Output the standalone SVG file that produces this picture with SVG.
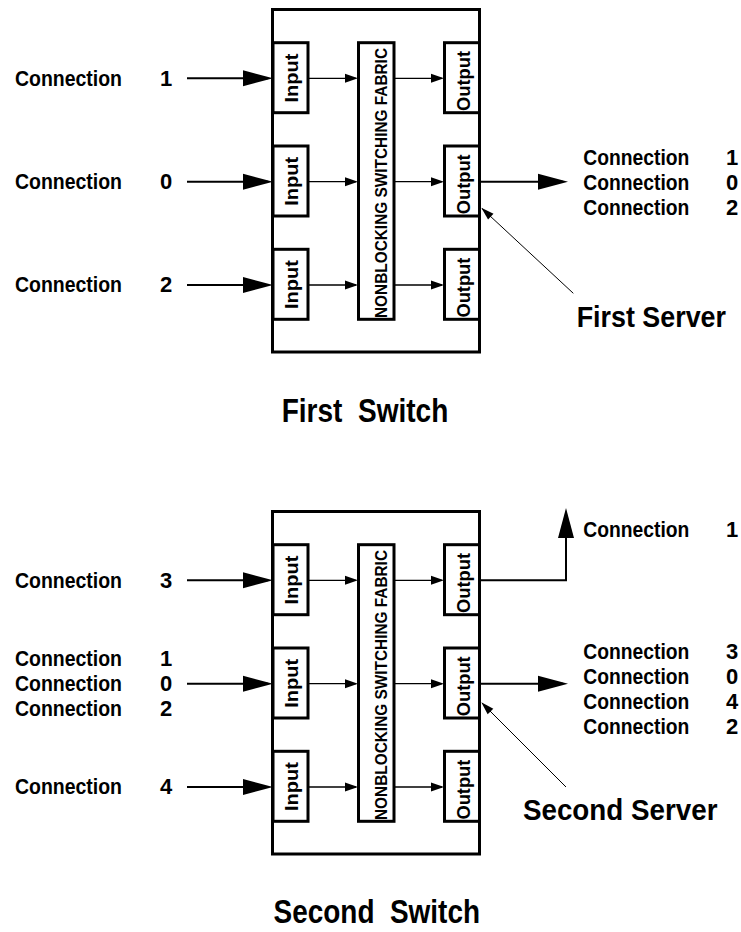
<svg xmlns="http://www.w3.org/2000/svg" width="741" height="932" viewBox="0 0 741 932">
<style>
  text { font-family: "Liberation Sans", Arial, Helvetica, sans-serif; font-weight: bold; fill: #000; }
  .frame { fill: #fff; stroke: #000; stroke-width: 3; }
  .box { fill: #fff; stroke: #000; stroke-width: 3; }
  .io { font-size: 17.5px; text-anchor: middle; }
  .fab { font-size: 17px; text-anchor: middle; }
  .lbl { font-size: 22px; }
  .big { font-size: 29px; }
  .cap { font-size: 32.5px; white-space: pre; }
  .ext { fill: none; stroke: #000; stroke-width: 2; marker-end: url(#bigHead); }
  .int { fill: none; stroke: #000; stroke-width: 1.3; marker-end: url(#smallHead); }
  .ptr { fill: none; stroke: #000; stroke-width: 1; marker-end: url(#ptrHead); }
</style>
<defs>
  <marker id="bigHead" markerUnits="userSpaceOnUse" markerWidth="30" markerHeight="16" refX="25" refY="8" orient="auto" overflow="visible">
    <path d="M0,0 L30,8 L0,16 z" fill="#000"/>
  </marker>
  <marker id="smallHead" markerUnits="userSpaceOnUse" markerWidth="13" markerHeight="9" refX="11" refY="4.5" orient="auto" overflow="visible">
    <path d="M0,0 L13,4.5 L0,9 z" fill="#000"/>
  </marker>
  <marker id="ptrHead" markerUnits="userSpaceOnUse" markerWidth="13" markerHeight="8" refX="12" refY="4" orient="auto" overflow="visible">
    <path d="M0,0 L13,4 L0,8 z" fill="#000"/>
  </marker>
</defs>

<!-- ===== First switch ===== -->
<g id="first-switch">
  <rect id="switch1-frame" class="frame" x="272.5" y="9.5" width="207" height="342.5"/>
  <g id="s1-input1"><rect class="box" x="273" y="42.7" width="35" height="70"/><text class="io" transform="translate(298.3,78) rotate(-90)" textLength="49" lengthAdjust="spacingAndGlyphs">Input</text></g>
  <g id="s1-input2"><rect class="box" x="273" y="146" width="35" height="70"/><text class="io" transform="translate(298.3,181.3) rotate(-90)" textLength="49" lengthAdjust="spacingAndGlyphs">Input</text></g>
  <g id="s1-input3"><rect class="box" x="273" y="249.3" width="35" height="70"/><text class="io" transform="translate(298.3,284.6) rotate(-90)" textLength="49" lengthAdjust="spacingAndGlyphs">Input</text></g>
  <g id="s1-fabric"><rect class="box" x="358.5" y="42.7" width="35.5" height="276.6"/><text class="fab" transform="translate(386.6,183) rotate(-90)" textLength="270" lengthAdjust="spacingAndGlyphs">NONBLOCKING SWITCHING FABRIC</text></g>
  <g id="s1-output1"><rect class="box" x="444.5" y="42.7" width="35" height="70"/><text class="io" transform="translate(470,81) rotate(-90)" textLength="60" lengthAdjust="spacingAndGlyphs">Output</text></g>
  <g id="s1-output2"><rect class="box" x="444.5" y="146" width="35" height="70"/><text class="io" transform="translate(470,184.3) rotate(-90)" textLength="60" lengthAdjust="spacingAndGlyphs">Output</text></g>
  <g id="s1-output3"><rect class="box" x="444.5" y="249.3" width="35" height="70"/><text class="io" transform="translate(470,287.6) rotate(-90)" textLength="60" lengthAdjust="spacingAndGlyphs">Output</text></g>
</g>

<!-- ===== Second switch ===== -->
<g id="second-switch">
  <rect id="switch2-frame" class="frame" x="272.5" y="511.5" width="207" height="342.5"/>
  <g id="s2-input1"><rect class="box" x="273" y="544.7" width="35" height="70"/><text class="io" transform="translate(298.3,580) rotate(-90)" textLength="49" lengthAdjust="spacingAndGlyphs">Input</text></g>
  <g id="s2-input2"><rect class="box" x="273" y="648" width="35" height="70"/><text class="io" transform="translate(298.3,683.3) rotate(-90)" textLength="49" lengthAdjust="spacingAndGlyphs">Input</text></g>
  <g id="s2-input3"><rect class="box" x="273" y="751.3" width="35" height="70"/><text class="io" transform="translate(298.3,786.6) rotate(-90)" textLength="49" lengthAdjust="spacingAndGlyphs">Input</text></g>
  <g id="s2-fabric"><rect class="box" x="358.5" y="544.7" width="35.5" height="276.6"/><text class="fab" transform="translate(386.6,685) rotate(-90)" textLength="270" lengthAdjust="spacingAndGlyphs">NONBLOCKING SWITCHING FABRIC</text></g>
  <g id="s2-output1"><rect class="box" x="444.5" y="544.7" width="35" height="70"/><text class="io" transform="translate(470,583) rotate(-90)" textLength="60" lengthAdjust="spacingAndGlyphs">Output</text></g>
  <g id="s2-output2"><rect class="box" x="444.5" y="648" width="35" height="70"/><text class="io" transform="translate(470,686.3) rotate(-90)" textLength="60" lengthAdjust="spacingAndGlyphs">Output</text></g>
  <g id="s2-output3"><rect class="box" x="444.5" y="751.3" width="35" height="70"/><text class="io" transform="translate(470,789.6) rotate(-90)" textLength="60" lengthAdjust="spacingAndGlyphs">Output</text></g>
</g>

<!-- ===== Connectors ===== -->
<g id="connectors">
  <!-- first switch -->
  <line class="ext" x1="187" y1="78.3" x2="268" y2="78.3"/>
  <line class="ext" x1="187" y1="181.7" x2="268" y2="181.7"/>
  <line class="ext" x1="187" y1="285" x2="268" y2="285"/>
  <line class="int" x1="308" y1="78.3" x2="356" y2="78.3"/>
  <line class="int" x1="308" y1="181.7" x2="356" y2="181.7"/>
  <line class="int" x1="308" y1="285" x2="356" y2="285"/>
  <line class="int" x1="394" y1="78.3" x2="442" y2="78.3"/>
  <line class="int" x1="394" y1="181.7" x2="442" y2="181.7"/>
  <line class="int" x1="394" y1="285" x2="442" y2="285"/>
  <line class="ext" x1="479" y1="181.7" x2="563" y2="181.7"/>
  <line class="ptr" x1="573.3" y1="293.3" x2="482" y2="208.5"/>
  <!-- second switch -->
  <line class="ext" x1="187" y1="580.3" x2="268" y2="580.3"/>
  <line class="ext" x1="187" y1="683.7" x2="268" y2="683.7"/>
  <line class="ext" x1="187" y1="787" x2="268" y2="787"/>
  <line class="int" x1="308" y1="580.3" x2="356" y2="580.3"/>
  <line class="int" x1="308" y1="683.7" x2="356" y2="683.7"/>
  <line class="int" x1="308" y1="787" x2="356" y2="787"/>
  <line class="int" x1="394" y1="580.3" x2="442" y2="580.3"/>
  <line class="int" x1="394" y1="683.7" x2="442" y2="683.7"/>
  <line class="int" x1="394" y1="787" x2="442" y2="787"/>
  <polyline class="ext" points="479,580.3 566,580.3 566,513"/>
  <line class="ext" x1="479" y1="683.7" x2="563" y2="683.7"/>
  <line class="ptr" x1="566" y1="787" x2="482" y2="703"/>
</g>

<!-- ===== Labels ===== -->
<g id="labels-first">
  <text class="lbl" x="15" y="85.7" textLength="107" lengthAdjust="spacingAndGlyphs">Connection</text><text class="lbl" x="160" y="85.7">1</text>
  <text class="lbl" x="15" y="189" textLength="107" lengthAdjust="spacingAndGlyphs">Connection</text><text class="lbl" x="160" y="189">0</text>
  <text class="lbl" x="15" y="292.3" textLength="107" lengthAdjust="spacingAndGlyphs">Connection</text><text class="lbl" x="160" y="292.3">2</text>
  <text class="lbl" x="583.3" y="164.5" textLength="106" lengthAdjust="spacingAndGlyphs">Connection</text><text class="lbl" x="726" y="164.5">1</text>
  <text class="lbl" x="583.3" y="189.5" textLength="106" lengthAdjust="spacingAndGlyphs">Connection</text><text class="lbl" x="726" y="189.5">0</text>
  <text class="lbl" x="583.3" y="214.5" textLength="106" lengthAdjust="spacingAndGlyphs">Connection</text><text class="lbl" x="726" y="214.5">2</text>
  <text class="big" x="576.7" y="326.7" textLength="149.3" lengthAdjust="spacingAndGlyphs">First Server</text>
  <text class="cap" x="281.7" y="421.7" textLength="166.6" lengthAdjust="spacingAndGlyphs">First  Switch</text>
</g>
<g id="labels-second">
  <text class="lbl" x="15" y="588" textLength="107" lengthAdjust="spacingAndGlyphs">Connection</text><text class="lbl" x="160" y="588">3</text>
  <text class="lbl" x="15" y="666" textLength="107" lengthAdjust="spacingAndGlyphs">Connection</text><text class="lbl" x="160" y="666">1</text>
  <text class="lbl" x="15" y="691" textLength="107" lengthAdjust="spacingAndGlyphs">Connection</text><text class="lbl" x="160" y="691">0</text>
  <text class="lbl" x="15" y="716" textLength="107" lengthAdjust="spacingAndGlyphs">Connection</text><text class="lbl" x="160" y="716">2</text>
  <text class="lbl" x="15" y="794" textLength="107" lengthAdjust="spacingAndGlyphs">Connection</text><text class="lbl" x="160" y="794">4</text>
  <text class="lbl" x="583.3" y="536.7" textLength="106" lengthAdjust="spacingAndGlyphs">Connection</text><text class="lbl" x="726" y="536.7">1</text>
  <text class="lbl" x="583.3" y="658.5" textLength="106" lengthAdjust="spacingAndGlyphs">Connection</text><text class="lbl" x="726" y="658.5">3</text>
  <text class="lbl" x="583.3" y="683.5" textLength="106" lengthAdjust="spacingAndGlyphs">Connection</text><text class="lbl" x="726" y="683.5">0</text>
  <text class="lbl" x="583.3" y="708.5" textLength="106" lengthAdjust="spacingAndGlyphs">Connection</text><text class="lbl" x="726" y="708.5">4</text>
  <text class="lbl" x="583.3" y="733.5" textLength="106" lengthAdjust="spacingAndGlyphs">Connection</text><text class="lbl" x="726" y="733.5">2</text>
  <text class="big" x="522.9" y="820" textLength="194.6" lengthAdjust="spacingAndGlyphs" style="font-size:30px">Second Server</text>
  <text class="cap" x="273.6" y="923.3" textLength="206.4" lengthAdjust="spacingAndGlyphs" style="font-size:33px">Second  Switch</text>
</g>
</svg>
